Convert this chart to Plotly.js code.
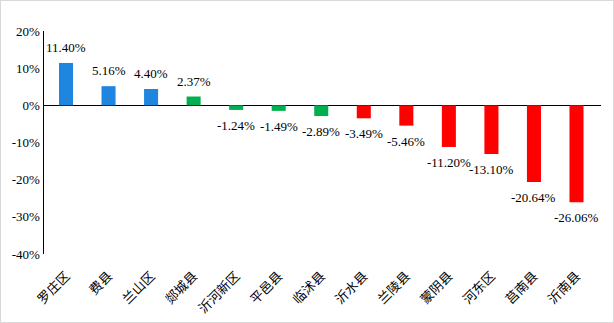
<!DOCTYPE html>
<html><head><meta charset="utf-8">
<script src="https://cdn.plot.ly/plotly-3.0.1.min.js"></script>
<style>html,body{margin:0;padding:0;background:#fff}#c{width:612px;height:321px;border:1px solid #d9d9d9}</style>
</head><body><div id="c"></div>
<script>
const categories = ['罗庄区','费县','兰山区','郯城县','沂河新区','平邑县','临沭县','沂水县','兰陵县','蒙阴县','河东区','莒南县','沂南县'];
const values = [11.40, 5.16, 4.40, 2.37, -1.24, -1.49, -2.89, -3.49, -5.46, -11.20, -13.10, -20.64, -26.06];
const barColors = ['#1f86e0','#1f86e0','#1f86e0','#00b050','#00b050','#00b050','#00b050','#ff0000','#ff0000','#ff0000','#ff0000','#ff0000','#ff0000'];
const yTickVals = [-40,-30,-20,-10,0,10,20];

const serif = '"Times New Roman", "Liberation Serif", serif';
const annotations = categories.map((c,i)=>({
  x: c, y: values[i], xref:'x', yref:'y',
  text: values[i].toFixed(2)+'%', showarrow:false,
  yanchor: values[i]>=0 ? 'bottom' : 'top',
  yshift: values[i]>=0 ? 6 : -6,
  font:{family:serif,size:13,color:'#000'}
}));

Plotly.newPlot('c',[{
  type:'bar', x:categories, y:values,
  marker:{color:barColors}, width:0.33, hoverinfo:'none'
}],{
  width:612, height:321,
  margin:{l:43,r:12,t:30,b:68,pad:0},
  paper_bgcolor:'#fff', plot_bgcolor:'#fff',
  showlegend:false,
  xaxis:{type:'category', tickangle:-45, showline:false, showgrid:false, zeroline:false, ticks:'',
    ticklabelstandoff:11,
    tickfont:{family:'"Noto Sans CJK SC", sans-serif', size:13, color:'#000'}},
  yaxis:{range:[-40,20], tickvals:yTickVals, ticktext:yTickVals.map(v=>v+'%'),
    showgrid:false, showline:true, linecolor:'#000', linewidth:1.5, ticks:'', ticklen:0,
    zeroline:true, zerolinecolor:'#000', zerolinewidth:1.5,
    tickfont:{family:serif,size:13,color:'#000'}},
  annotations: annotations
},{staticPlot:true});
</script></body></html>
